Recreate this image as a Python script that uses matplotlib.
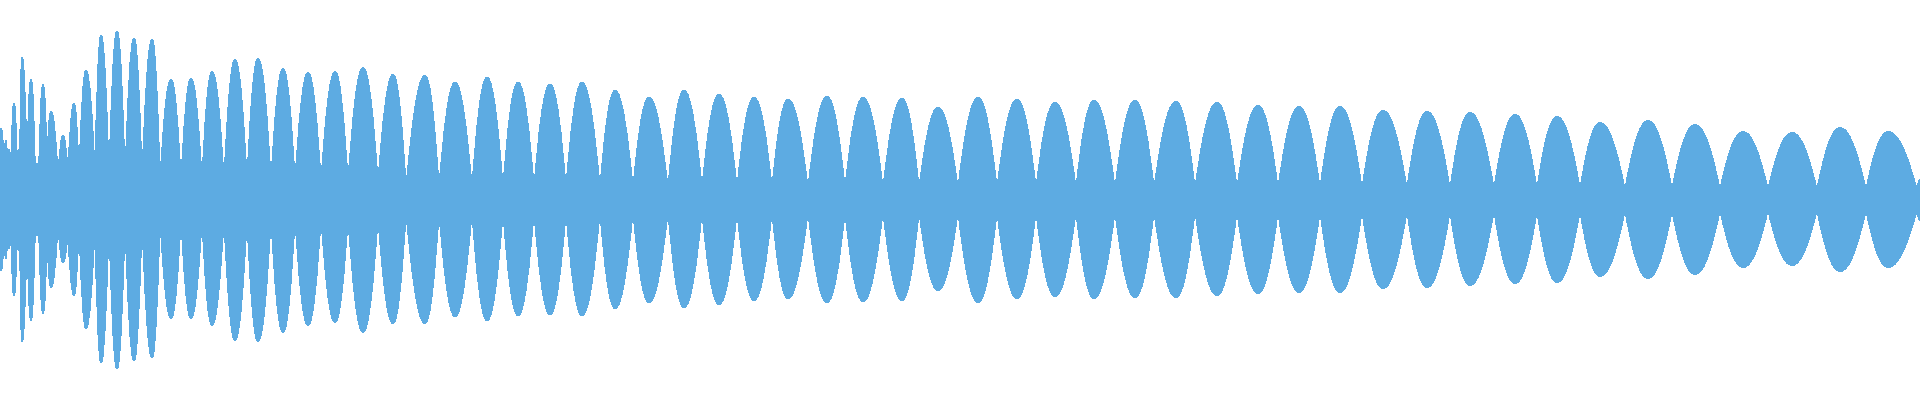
"""Render a waveform overview (min/max envelope) as a single filled shape."""

from __future__ import annotations

import matplotlib

matplotlib.use("Agg")

import matplotlib.pyplot as plt
from matplotlib.patches import PathPatch
from matplotlib.path import Path

WAVE_COLOR = "#5dabe2"

# envelope peaks: position (frame) and upper/lower amplitude
PEAK_X = [
    1, 6, 9, 14, 19, 22, 31, 37, 43, 51, 63, 74, 86,
    101, 117, 134, 152, 171, 191, 212, 235, 258, 283,
    308, 335, 363, 393, 425, 455, 487, 518, 550, 582,
    615, 649, 684, 719, 754, 788, 827, 863, 902, 938,
    978, 1017, 1055, 1094, 1135, 1176, 1217, 1258, 1299, 1340,
    1383, 1427, 1470, 1515, 1557, 1600, 1648, 1695, 1743, 1792,
    1840, 1888, 1920,
]
PEAK_TOP = [
    0.355, 0.295, 0.25, 0.48, 0.25, 0.71, 0.60, 0.18, 0.575, 0.44, 0.32, 0.48, 0.645,
    0.82, 0.84, 0.805, 0.80, 0.60, 0.605, 0.64, 0.70, 0.705, 0.655,
    0.635, 0.64, 0.66, 0.625, 0.62, 0.585, 0.61, 0.585, 0.575, 0.585,
    0.545, 0.51, 0.545, 0.525, 0.51, 0.50, 0.515, 0.51, 0.505, 0.46,
    0.51, 0.50, 0.485, 0.495, 0.495, 0.49, 0.485, 0.47, 0.465, 0.465,
    0.445, 0.44, 0.435, 0.425, 0.415, 0.385, 0.395, 0.375, 0.34, 0.335,
    0.36, 0.34, 0.10,
]
PEAK_BOTTOM = [
    -0.35, -0.29, -0.24, -0.475, -0.25, -0.705, -0.60, -0.175, -0.565, -0.435, -0.31, -0.475, -0.64,
    -0.81, -0.84, -0.80, -0.785, -0.59, -0.59, -0.625, -0.70, -0.705, -0.66,
    -0.625, -0.61, -0.66, -0.615, -0.615, -0.58, -0.60, -0.575, -0.57, -0.575,
    -0.54, -0.51, -0.535, -0.52, -0.50, -0.49, -0.51, -0.505, -0.50, -0.45,
    -0.51, -0.49, -0.48, -0.49, -0.485, -0.485, -0.475, -0.465, -0.46, -0.46,
    -0.44, -0.435, -0.425, -0.415, -0.41, -0.38, -0.39, -0.37, -0.335, -0.325,
    -0.355, -0.335, -0.10,
]

# envelope minima (beat nodes) between consecutive peaks
NODE_X = [
    4, 7, 11, 17, 20, 27, 35, 39, 47, 58, 68, 79, 95,
    109, 125, 142, 160, 181, 202, 224, 247, 271, 295,
    321, 348, 378, 406, 439, 472, 503, 534, 566, 600,
    633, 668, 702, 737, 772, 808, 845, 883, 919, 958,
    997, 1036, 1076, 1115, 1154, 1195, 1237, 1278, 1320, 1362,
    1407, 1450, 1494, 1537, 1580, 1625, 1672, 1720, 1768, 1817,
    1866, 1917,
]
NODE_TOP = [
    0.165, 0.20, 0.135, 0.175, 0.15, 0.135, 0.135, 0.14, 0.165, 0.10, 0.115, 0.09, 0.10,
    0.07, 0.07, 0.07, 0.07, 0.07, 0.07, 0.07, 0.07, 0.07, 0.07,
    0.07, 0.07, 0.07, 0.045, 0.045, 0.045, 0.045, 0.045, 0.045, 0.045,
    0.045, 0.045, 0.045, 0.045, 0.045, 0.045, 0.045, 0.045, 0.045, 0.045,
    0.045, 0.045, 0.045, 0.045, 0.045, 0.045, 0.045, 0.045, 0.045, 0.045,
    0.045, 0.045, 0.045, 0.045, 0.045, 0.045, 0.045, 0.045, 0.045, 0.045,
    0.045, 0.045,
]
NODE_BOTTOM = [
    -0.165, -0.20, -0.135, -0.175, -0.15, -0.135, -0.125, -0.135, -0.165, -0.10, -0.15, -0.09, -0.10,
    -0.07, -0.07, -0.07, -0.07, -0.07, -0.07, -0.07, -0.07, -0.07, -0.07,
    -0.07, -0.07, -0.07, -0.045, -0.045, -0.045, -0.045, -0.045, -0.045, -0.045,
    -0.045, -0.045, -0.045, -0.045, -0.045, -0.045, -0.045, -0.045, -0.045, -0.045,
    -0.045, -0.045, -0.045, -0.045, -0.045, -0.045, -0.045, -0.045, -0.045, -0.045,
    -0.045, -0.045, -0.045, -0.045, -0.045, -0.045, -0.045, -0.045, -0.045, -0.045,
    -0.045, -0.045,
]


def _envelope(xs_peak, ys_peak, xs_node, ys_node):
    """Interleave peaks and nodes: peak, node, peak, ..., peak."""
    pts = []
    for i, (x, y) in enumerate(zip(xs_peak, ys_peak)):
        pts.append((x, y, True))
        if i < len(xs_node):
            pts.append((xs_node[i], ys_node[i], False))
    return pts


def _curve_segments(pts):
    """Cubic bezier pieces: rounded at peaks, pointed at nodes."""
    verts, codes = [], []
    for (x0, y0, p0), (x1, y1, _p1) in zip(pts[:-1], pts[1:]):
        dx, dy = x1 - x0, y1 - y0
        if p0:  # peak -> node
            c1 = (x0 + 0.38 * dx, y0)
            c2 = (x0 + 0.70 * dx, y0 + 0.45 * dy)
        else:  # node -> peak
            c1 = (x0 + 0.30 * dx, y0 + 0.55 * dy)
            c2 = (x0 + 0.62 * dx, y1)
        verts += [c1, c2, (x1, y1)]
        codes += [Path.CURVE4] * 3
    return verts, codes


def build_path() -> Path:
    top = _envelope(PEAK_X, PEAK_TOP, NODE_X, NODE_TOP)
    bottom = _envelope(PEAK_X, PEAK_BOTTOM, NODE_X, NODE_BOTTOM)[::-1]

    verts = [(PEAK_X[0], PEAK_TOP[0])]
    codes = [Path.MOVETO]
    v, c = _curve_segments(top)
    verts += v
    codes += c
    verts.append((bottom[0][0], bottom[0][1]))
    codes.append(Path.LINETO)
    v, c = _curve_segments(bottom)
    verts += v
    codes += c
    verts.append((PEAK_X[0], PEAK_TOP[0]))
    codes.append(Path.CLOSEPOLY)
    return Path(verts, codes)


def main() -> None:
    fig = plt.figure(figsize=(19.2, 4.0), dpi=100)
    ax = fig.add_axes([0, 0, 1, 1])
    wave = PathPatch(build_path(), facecolor=WAVE_COLOR, edgecolor=WAVE_COLOR,
                     linewidth=0.6, antialiased=False)
    ax.add_patch(wave)
    ax.set_xlim(0, 1920)
    ax.set_ylim(-1, 1)
    ax.axis("off")
    fig.savefig("out.png", dpi=100, facecolor="white")
    plt.close(fig)


if __name__ == "__main__":
    main()
